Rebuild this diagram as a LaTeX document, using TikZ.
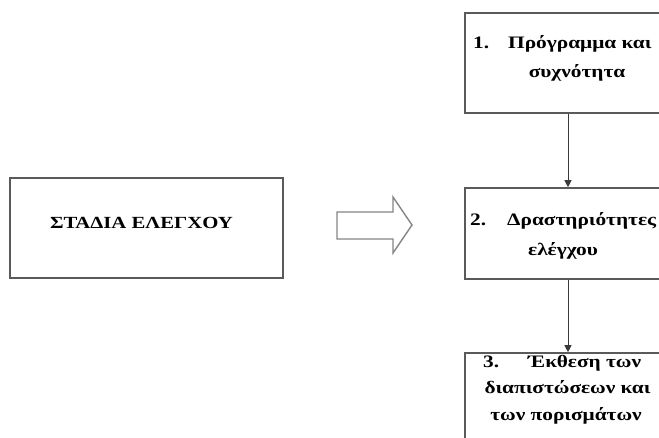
\documentclass[tikz,border=0pt]{standalone}
\usepackage{fontspec}
\setmainfont{Liberation Serif}
\newfontfamily\widefont[FakeStretch=1.22]{Liberation Serif}
\usetikzlibrary{arrows.meta}
\definecolor{boxgray}{HTML}{5A5A5A}
\definecolor{linegray}{HTML}{3A3A3A}
\definecolor{arrowgray}{HTML}{858585}
\begin{document}
\begin{tikzpicture}[x=1pt,y=-1pt,
  box/.style={draw=boxgray,line width=1.6pt,inner sep=0pt,minimum width=206pt},
  txt/.style={font=\widefont\bfseries\fontsize{17.5}{21}\selectfont,inner sep=0pt,text=black},
  conn/.style={draw=linegray,line width=0.9pt,-{Triangle[width=7pt,length=7pt]}}]
\useasboundingbox (0,0) rectangle (659,437);
\clip (0,0) rectangle (659,437);
\fill[white] (0,0) rectangle (659,437);
% left box
\node[box,minimum width=273pt,minimum height=100pt] (stages) at (146.5,228) {};
\node[txt,font=\widefont\bfseries\fontsize{17}{21}\selectfont,anchor=base] (stagesT) at (141.5,228) {ΣΤΑΔΙΑ ΕΛΕΓΧΟΥ};
% block arrow
\draw[draw=arrowgray,line width=1.4pt,fill=white,line join=miter]
  (337,212) -- (393,212) -- (393,197) -- (412,225) -- (393,253) -- (393,239) -- (337,239) -- cycle;
% right boxes
\node[box,minimum height=100pt] (b1) at (568,63) {};
\node[box,minimum height=91pt] (b2) at (568,233.5) {};
\node[box,minimum height=107pt] (b3) at (568,406.5) {};
% texts
\node[txt,anchor=base west] (b1n) at (473,48) {1.};
\node[txt,anchor=base west] (b1a) at (508,48) {Πρόγραμμα και};
\node[txt,anchor=base] (b1b) at (577,77) {συχνότητα};
\node[txt,anchor=base west] (b2n) at (470,225) {2.};
\node[txt,anchor=base west] (b2a) at (507,225) {Δραστηριότητες};
\node[txt,anchor=base] (b2b) at (563,255) {ελέγχου};
\node[txt,anchor=base west] (b3n) at (483,367) {3.};
\node[txt,anchor=base west] (b3a) at (528,367) {Έκθεση των};
\node[txt,anchor=base] (b3b) at (567.5,393) {διαπιστώσεων και};
\node[txt,anchor=base] (b3c) at (566,420) {των πορισμάτων};
% connectors
\draw[conn] (b1.south) -- (b2.north);
\draw[conn] (b2.south) -- (b3.north);
\end{tikzpicture}
\end{document}
